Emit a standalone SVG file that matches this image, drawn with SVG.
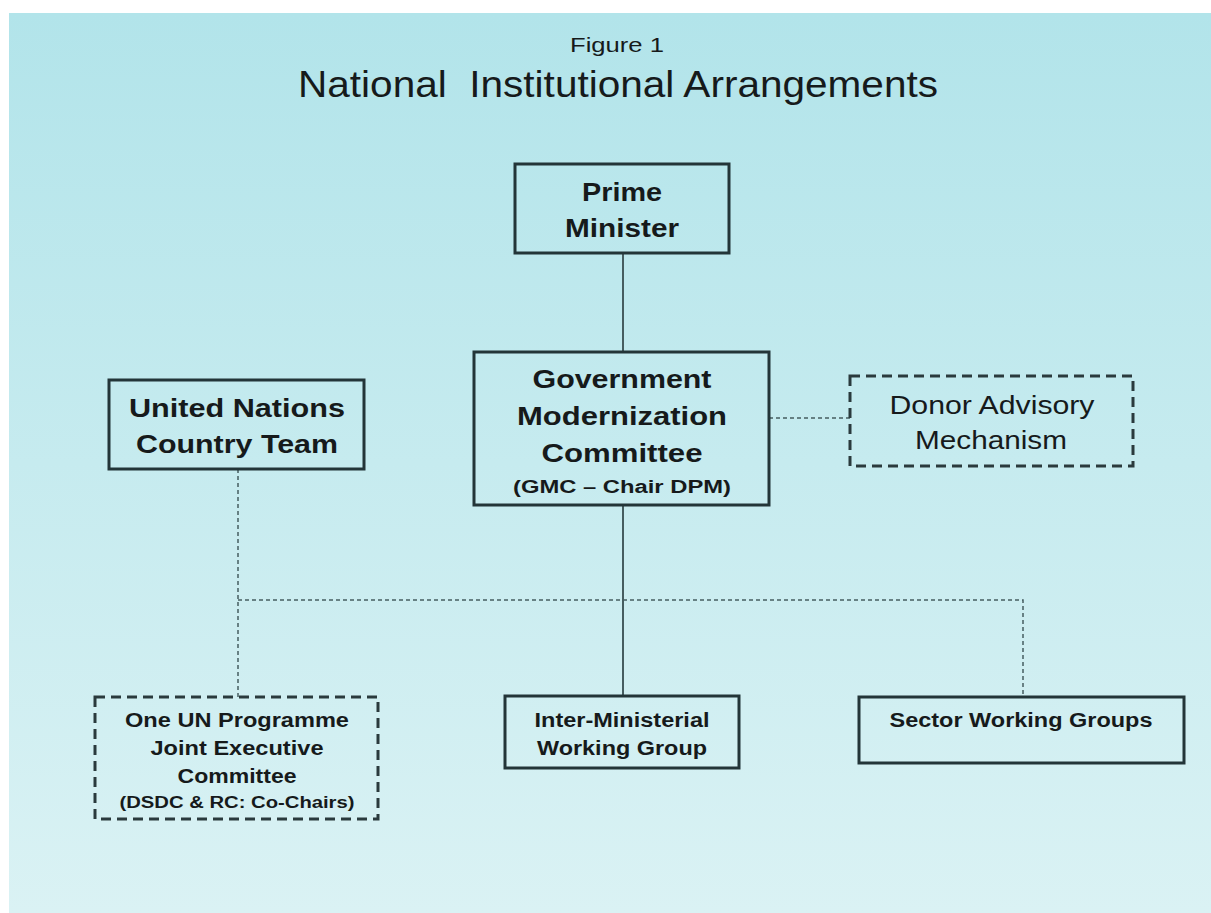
<svg xmlns="http://www.w3.org/2000/svg" width="1211" height="913" viewBox="0 0 1211 913">
<defs>
<linearGradient id="bg" x1="0" y1="0" x2="0" y2="1">
<stop offset="0" stop-color="#b2e4ea"/>
<stop offset="1" stop-color="#daf2f4"/>
</linearGradient>
<style>
.box{fill:none;stroke:#233538;stroke-width:3}
.dbox{fill:none;stroke:#2a3a3d;stroke-width:3;stroke-dasharray:10 6}
.solid{stroke:#465d60;stroke-width:2;fill:none}
.dot{stroke:#465d60;stroke-width:1.5;stroke-dasharray:4 3;fill:none}
text{font-family:"Liberation Sans",Arial,sans-serif;fill:#161a1b;text-anchor:middle}
.b26{font-size:26px;font-weight:bold}
.r26{font-size:26px}
.b20{font-size:20px;font-weight:bold}
.b18{font-size:18px;font-weight:bold}
.b16{font-size:16px;font-weight:bold}
</style>
</defs>
<rect x="0" y="0" width="1211" height="913" fill="#ffffff"/>
<rect x="9" y="13" width="1202" height="900" fill="url(#bg)"/>
<g id="title">
<text x="617" y="52" style="font-size:21px" textLength="94" lengthAdjust="spacingAndGlyphs">Figure 1</text>
<text x="618" y="97" style="font-size:36px" xml:space="preserve" textLength="640" lengthAdjust="spacingAndGlyphs">National  Institutional Arrangements</text>
</g>
<g id="connectors">
<line class="solid" x1="623" y1="253" x2="623" y2="352"/>
<line class="solid" x1="623" y1="505" x2="623" y2="696"/>
<line class="dot" x1="769" y1="418" x2="850" y2="418"/>
<polyline class="dot" points="238,469 238,697"/>
<polyline class="dot" points="238,600 1023,600 1023,697"/>
</g>
<g id="prime-minister">
<rect class="box" x="515" y="164" width="214" height="89"/>
<text class="b26" x="622" y="201" textLength="80" lengthAdjust="spacingAndGlyphs">Prime</text>
<text class="b26" x="622" y="237" textLength="114" lengthAdjust="spacingAndGlyphs">Minister</text>
</g>
<g id="gmc">
<rect class="box" x="474" y="352" width="295" height="153"/>
<text class="b26" x="622" y="388" textLength="179" lengthAdjust="spacingAndGlyphs">Government</text>
<text class="b26" x="622" y="425" textLength="210" lengthAdjust="spacingAndGlyphs">Modernization</text>
<text class="b26" x="622" y="462" textLength="161" lengthAdjust="spacingAndGlyphs">Committee</text>
<text class="b18" x="622" y="493" textLength="218" lengthAdjust="spacingAndGlyphs">(GMC – Chair DPM)</text>
</g>
<g id="uncountry">
<rect class="box" x="109" y="380" width="255" height="89"/>
<text class="b26" x="237" y="417" textLength="216" lengthAdjust="spacingAndGlyphs">United Nations</text>
<text class="b26" x="237" y="453" textLength="202" lengthAdjust="spacingAndGlyphs">Country Team</text>
</g>
<g id="donor">
<rect class="dbox" x="850" y="376" width="283" height="90"/>
<text class="r26" x="992" y="414" textLength="205" lengthAdjust="spacingAndGlyphs">Donor Advisory</text>
<text class="r26" x="991" y="449" textLength="152" lengthAdjust="spacingAndGlyphs">Mechanism</text>
</g>
<g id="oneun">
<rect class="dbox" x="95" y="697" width="283" height="122"/>
<text class="b20" x="237" y="727" textLength="224" lengthAdjust="spacingAndGlyphs">One UN Programme</text>
<text class="b20" x="237" y="755" textLength="173" lengthAdjust="spacingAndGlyphs">Joint Executive</text>
<text class="b20" x="237" y="783" textLength="119" lengthAdjust="spacingAndGlyphs">Committee</text>
<text class="b16" x="237" y="808" textLength="235" lengthAdjust="spacingAndGlyphs">(DSDC &amp; RC: Co-Chairs)</text>
</g>
<g id="interministerial">
<rect class="box" x="505" y="696" width="234" height="72"/>
<text class="b20" x="622" y="727" textLength="175" lengthAdjust="spacingAndGlyphs">Inter-Ministerial</text>
<text class="b20" x="622" y="755" textLength="170" lengthAdjust="spacingAndGlyphs">Working Group</text>
</g>
<g id="sector">
<rect class="box" x="859" y="697" width="325" height="66"/>
<text class="b20" x="1021" y="727" textLength="263" lengthAdjust="spacingAndGlyphs">Sector Working Groups</text>
</g>
</svg>
